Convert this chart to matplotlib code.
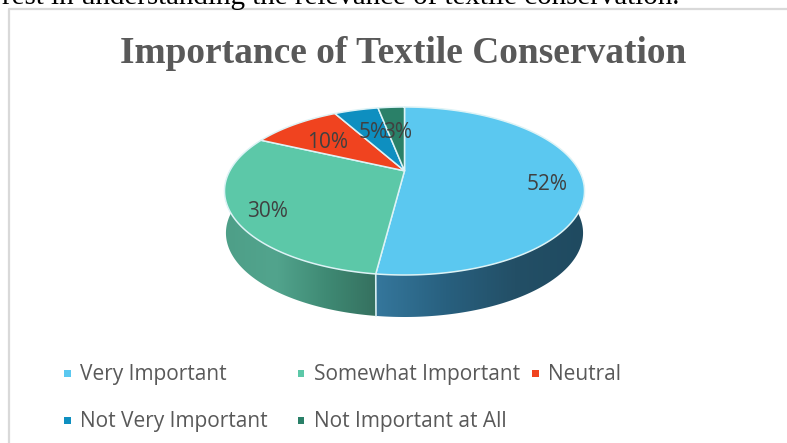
import numpy as np
import matplotlib
matplotlib.use("Agg")
import matplotlib.pyplot as plt
from matplotlib.colors import LinearSegmentedColormap
from matplotlib.patches import Polygon, Rectangle

title = "Importance of Textile Conservation"
body_line = "rest in understanding the relevance of textile conservation."
categories = ["Very Important", "Somewhat Important", "Neutral",
              "Not Very Important", "Not Important at All"]
values = [52, 30, 10, 5, 3]
colors = ["#5BC8F0", "#5CC8A8", "#F0431F", "#0E8FC0", "#2A8068"]

# Pie geometry in pixels: centre, radii, depth and perspective strength
CX, CY, RX, RY, DEPTH, K = 404.5, 191.0, 180.0, 84.0, 42.0, 0.24
LABEL_XY = [(547, 183), (268, 210), (328, 142), (373, 132), (398, 131)]
LEGEND_XY = [(67, 373), (300.5, 373), (535, 373), (67, 420), (300.5, 420)]


def project(theta, radius=1.0, drop=0.0, shrink=1.0):
    """Map clockwise pie angles on a tilted disc to pixel positions."""
    u, v = radius * np.sin(theta), radius * np.cos(theta)
    w = 1 + K * v
    x = CX + shrink * RX * np.sqrt(1 - K ** 2) * u / w
    y = CY - RY * (v + K) / w + drop
    return x, y


fig = plt.figure(figsize=(7.87, 4.43), dpi=100, facecolor="white")
ax = fig.add_axes([0, 0, 1, 1])
ax.set_xlim(0, 787)
ax.set_ylim(443, 0)
ax.axis("off")

# Body text above the chart and the chart frame
ax.text(2, 4, body_line, family="Liberation Serif", fontsize=20.9,
        color="black", ha="left", va="baseline", clip_on=True)
ax.plot([9, 9, 787], [443, 9, 9], color="#D9D9D9", lw=1.6)
ax.text(403, 53, title, family="Liberation Serif", fontweight="bold",
        fontsize=26.9, color="#595959", ha="center", va="center")

fractions = np.cumsum([0] + values) / sum(values)
edges = 2 * np.pi * fractions

# Outer wall of the disc, shaded left to right on each visible segment
seam = edges[1]
wall_sets = [
    (seam, 1.5 * np.pi + 0.02, ["#4E9F88", "#52A48D", "#3F8A74", "#35705F"], "green"),
    (np.pi / 2 - 0.02, seam, ["#35779C", "#28607F", "#234F66", "#1F4A60"], "blue"),
]
for start, stop, ramp, name in wall_sets:
    th = np.linspace(start, stop, 200)
    xt, yt = project(th)
    xb, yb = project(th, drop=DEPTH, shrink=0.992)
    poly = np.column_stack([np.r_[xt, xb[::-1]], np.r_[yt, yb[::-1]]])
    patch = Polygon(poly, closed=True, fc="none", ec="none")
    ax.add_patch(patch)
    cmap = LinearSegmentedColormap.from_list(name, ramp)
    img = ax.imshow(np.linspace(0, 1, 256)[None, :], cmap=cmap, aspect="auto",
                    extent=[poly[:, 0].min(), poly[:, 0].max(),
                            poly[:, 1].max(), poly[:, 1].min()], zorder=1)
    img.set_clip_path(patch)
ax.set_xlim(0, 787)
ax.set_ylim(443, 0)

sx0, sy0 = project(seam)
sx1, sy1 = project(seam, drop=DEPTH, shrink=0.992)
ax.plot([sx0, sx1], [sy0, sy1], color="#D8EEF2", lw=1.2, zorder=2)

# Top face of the disc, one wedge per category
apex = project(0.0, radius=0.0)
for a, b, c in zip(edges[:-1], edges[1:], colors):
    th = np.linspace(a, b, 200)
    x, y = project(th)
    pts = np.column_stack([np.r_[apex[0], x], np.r_[apex[1], y]])
    ax.add_patch(Polygon(pts, closed=True, fc=c, ec="#DDF3F6", lw=1.1,
                         joinstyle="round", zorder=3))

for v, (lx, ly) in zip(values, LABEL_XY):
    ax.text(lx, ly + 1, f"{v}%", family="Open Sans", fontsize=15, color="#404040",
            ha="center", va="center", zorder=5)

# Legend entries sit on two irregular rows, on a shared text baseline
for name, c, (lx, ly) in zip(categories, colors, LEGEND_XY):
    ax.add_patch(Rectangle((lx - 3, ly - 3), 6.5, 6.5, fc=c, ec="none"))
    ax.text(lx + 13, ly + 7, name, family="Open Sans", fontsize=15, color="#595959",
            ha="left", va="baseline")

fig.savefig("out.png", dpi=100)
